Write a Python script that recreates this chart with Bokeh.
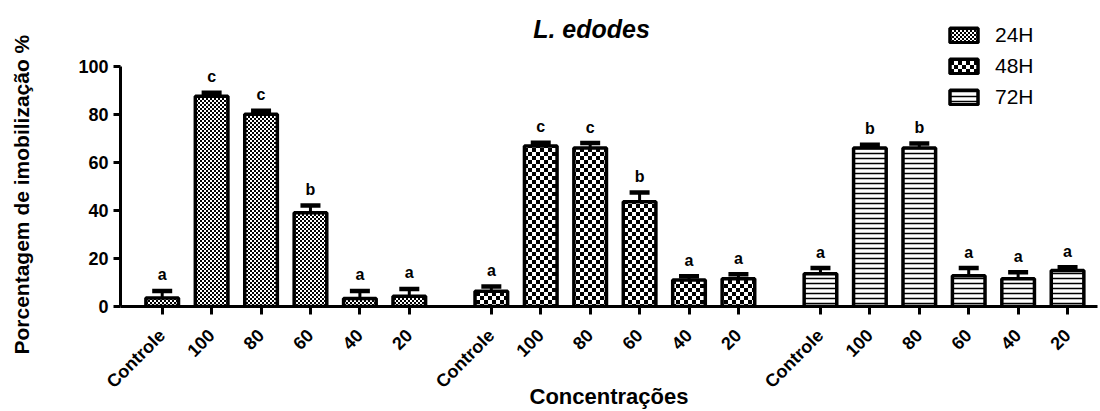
import base64
import struct
import zlib
from math import pi
from bokeh.plotting import figure
from bokeh.models import (ColumnDataSource, Range1d, FixedTicker, Whisker, TeeHead,
                          Label, Legend, LegendItem, ImageURLTexture, Title)
from bokeh.core.properties import value
from bokeh.embed import file_html
from bokeh.resources import INLINE

# ---------------- data ----------------
categories = ["Controle", "100", "80", "60", "40", "20"]
series_names = ["24H", "48H", "72H"]

values_24h = [3.5, 87.5, 80.0, 39.0, 3.3, 4.3]
errors_24h = [3.0, 1.5, 1.5, 3.0, 3.2, 3.0]
letters_24h = ["a", "c", "c", "b", "a", "a"]

values_48h = [6.3, 66.8, 66.0, 43.6, 11.0, 11.5]
errors_48h = [2.0, 1.4, 2.0, 3.8, 1.6, 1.9]
letters_48h = ["a", "c", "c", "b", "a", "a"]

values_72h = [13.6, 66.0, 66.0, 12.8, 11.5, 15.0]
errors_72h = [2.4, 1.3, 1.8, 3.2, 2.8, 1.3]
letters_72h = ["a", "b", "b", "a", "a", "a"]

y_ticks = [0, 20, 40, 60, 80, 100]

title_text = "L. edodes"
x_label = "Concentrações"
y_label = "Porcentagem de imobilização %"

# ---------------- style helpers ----------------
FONT = "Liberation Sans"
SLOT = 100      # distance between neighbouring bars (x units)
GROUP = 666     # distance between group starts (x units)


def checker_png(cell):
    """Data URL of a black/white checkerboard tile (2*cell x 2*cell px)."""
    n = 2 * cell
    raw = b""
    for r in range(n):
        row = bytes(0 if ((r // cell) + (c // cell)) % 2 == 0 else 255 for c in range(n))
        raw += b"\x00" + row

    def chunk(tag, data):
        body = tag + data
        return struct.pack(">I", len(data)) + body + struct.pack(">I", zlib.crc32(body) & 0xFFFFFFFF)

    png = (b"\x89PNG\r\n\x1a\n"
           + chunk(b"IHDR", struct.pack(">IIBBBBB", n, n, 8, 0, 0, 0, 0))
           + chunk(b"IDAT", zlib.compress(raw))
           + chunk(b"IEND", b""))
    return "data:image/png;base64," + base64.b64encode(png).decode()


textures = {
    "fine_checker": ImageURLTexture(url=checker_png(2)),
    "coarse_checker": ImageURLTexture(url=checker_png(4)),
}
hatch_styles = [
    dict(hatch_pattern=value("fine_checker")),
    dict(hatch_pattern=value("coarse_checker")),
    dict(hatch_pattern="horizontal_line", hatch_scale=5, hatch_weight=1.5),
]

p = figure(width=1100, height=411, output_backend="svg", toolbar_location=None,
           x_range=Range1d(-84.4, 1892.6), y_range=Range1d(0, 123.2),
           min_border_left=120, min_border_right=3, min_border_top=10,
           min_border_bottom=104)
p.outline_line_color = None
p.xgrid.grid_line_color = None
p.ygrid.grid_line_color = None
p.background_fill_color = "white"
p.border_fill_color = "white"

all_values = [values_24h, values_48h, values_72h]
all_errors = [errors_24h, errors_48h, errors_72h]
all_letters = [letters_24h, letters_48h, letters_72h]

tick_positions = []
tick_labels = {}
legend_items = []
for g, name in enumerate(series_names):
    xs = [g * GROUP + i * SLOT for i in range(len(categories))]
    tops = all_values[g]
    ups = [t + e for t, e in zip(tops, all_errors[g])]
    src = ColumnDataSource(dict(x=xs, top=tops, up=ups, letter=all_letters[g]))
    for xv, c in zip(xs, categories):
        tick_positions.append(xv)
        tick_labels[xv] = c
    r = p.vbar(x="x", top="top", bottom=0, width=66, source=src,
               fill_color="white", line_color="black", line_width=3.5,
               hatch_color="black", hatch_extra=textures, **hatch_styles[g])
    legend_items.append(LegendItem(label=name, renderers=[r]))
    w = Whisker(base="x", lower="top", upper="up", source=src, dimension="height",
                line_color="black", line_width=3,
                upper_head=TeeHead(size=20, line_width=4.5, line_color="black"),
                lower_head=None)
    p.add_layout(w)
    p.text(x="x", y="up", text="letter", source=src, text_align="center",
           text_baseline="alphabetic", y_offset=-16,
           text_font=value(FONT), text_font_style="bold", text_font_size="16px",
           text_color="black")

# ---------------- axes ----------------
xa = p.xaxis[0]
xa.ticker = FixedTicker(ticks=tick_positions)
xa.major_label_overrides = tick_labels
xa.major_label_orientation = pi / 4
xa.major_label_text_font = FONT
xa.major_label_text_font_style = "bold"
xa.major_label_text_font_size = "18px"
xa.major_label_text_color = "black"
xa.major_label_standoff = 18
xa.major_tick_out = 8
xa.major_tick_in = 0
xa.minor_tick_line_color = None
xa.major_tick_line_color = "black"
xa.major_tick_line_width = 3
xa.axis_line_color = "black"
xa.axis_line_width = 3
xa.axis_label = x_label
xa.axis_label_text_font = FONT
xa.axis_label_text_font_style = "bold"
xa.axis_label_text_font_size = "22px"
xa.axis_label_text_color = "black"
xa.axis_label_standoff = -18

ya = p.yaxis[0]
ya.bounds = (0, 100)
ya.ticker = FixedTicker(ticks=y_ticks)
ya.major_label_text_font = FONT
ya.major_label_text_font_style = "bold"
ya.major_label_text_font_size = "18px"
ya.major_label_text_color = "black"
ya.major_label_standoff = 5
ya.major_tick_out = 7
ya.major_tick_in = 0
ya.minor_tick_line_color = None
ya.major_tick_line_color = "black"
ya.major_tick_line_width = 3
ya.axis_line_color = "black"
ya.axis_line_width = 3
# blank spacer label keeps the y title away from the tick labels
ya.axis_label = " "
ya.axis_label_text_font_size = "21px"
ya.axis_label_standoff = 12

y_title = Title(text=y_label, align="left", offset=-48,
                text_font=FONT, text_font_style="bold", text_font_size="21px",
                text_color="black")
p.add_layout(y_title, "left")

# ---------------- title & legend ----------------
title = Label(x=471, y=278, x_units="screen", y_units="screen", text=title_text,
              text_align="center", text_baseline="alphabetic",
              text_font=FONT, text_font_style="bold italic", text_font_size="25px",
              text_color="black")
p.add_layout(title)

legend = Legend(items=legend_items, location=(826, 197), orientation="vertical",
                glyph_width=35, glyph_height=18, label_standoff=14, spacing=7,
                padding=0, margin=0, border_line_color=None, background_fill_alpha=0,
                label_text_font=FONT, label_text_font_size="21px", label_height=24,
                label_text_color="black")
p.add_layout(legend)

open("out.html", "w").write(file_html(p, INLINE))
